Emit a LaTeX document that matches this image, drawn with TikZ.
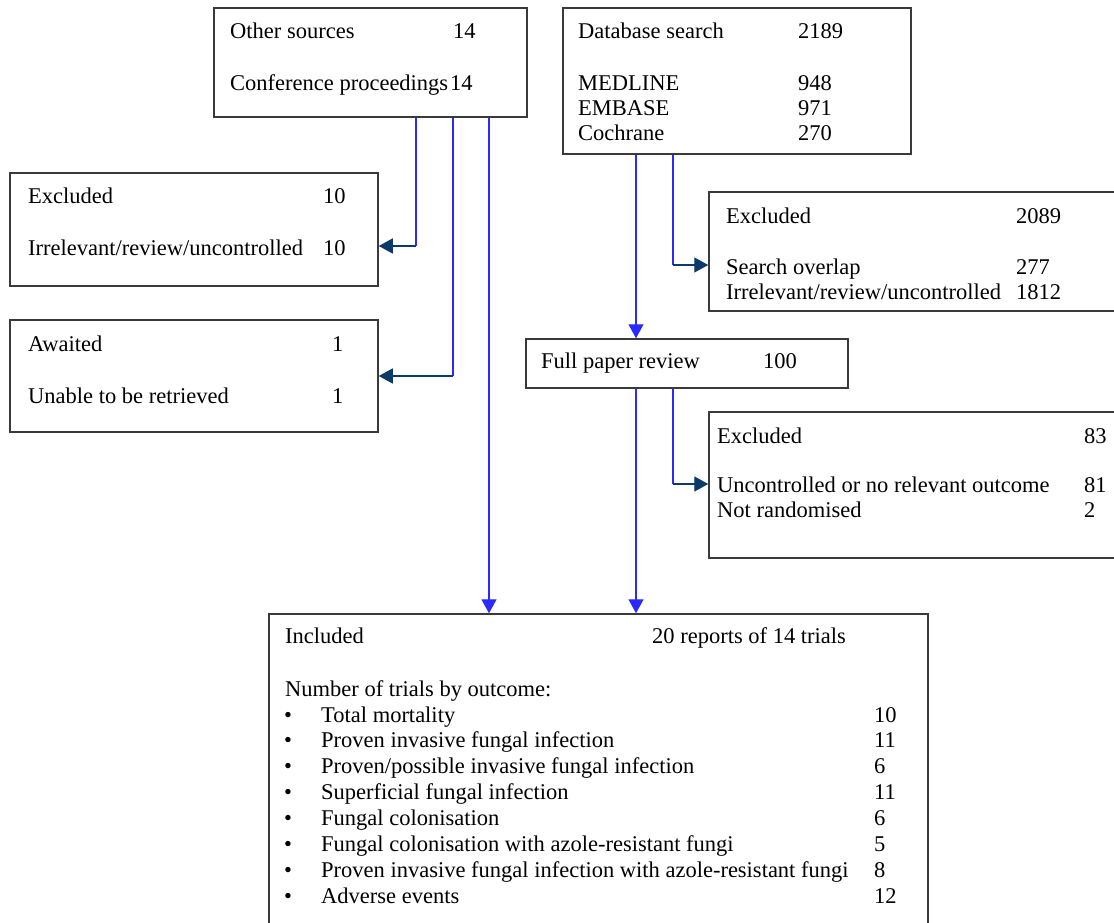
\documentclass[tikz,border=0pt]{standalone}
\usepackage{fontspec}
\setmainfont{Liberation Serif}
\usetikzlibrary{arrows.meta,fit}
\definecolor{lineblue}{HTML}{2A2AFF}
\definecolor{navy}{HTML}{0B3A6B}
\definecolor{boxgray}{HTML}{3A3A3A}
\tikzset{
  box/.style={draw=boxgray,line width=1.5pt,inner sep=0pt,fill=white},
  txt/.style={anchor=base west,inner sep=0pt,font=\fontsize{22.5}{26}\selectfont},
  vline/.style={draw=lineblue,line width=1.4pt},
  downarrow/.style={vline,-{Triangle[length=14pt,width=15pt]}},
  sidearrow/.style={draw=navy,line width=1.4pt,-{Triangle[length=14pt,width=15pt]}},
}
\begin{document}
\begin{tikzpicture}[x=1pt,y=-1pt]
\useasboundingbox (0,0) rectangle (1114,923);
\clip (0,0) rectangle (1114,923);
\fill[white] (0,0) rectangle (1114,923);
% boxes
\node[box,fit={(214,8) (527,117)}] (os) {};
\node[box,fit={(563,8) (911,154)}] (db) {};
\node[box,fit={(10,173) (378,286)}] (ex1) {};
\node[box,fit={(10,320) (378,432)}] (aw) {};
\node[box,fit={(709,192) (1140,311)}] (ex2) {};
\node[box,fit={(526,339) (848,388)}] (fp) {};
\node[box,fit={(709,412) (1140,558)}] (ex3) {};
\node[box,fit={(269,614) (928,950)}] (inc) {};
% texts: other sources
\node[txt] (os1) at (230,39) {Other sources};
\node[txt] (os1n) at (453,39) {14};
\node[txt] (os2) at (230,91) {Conference proceedings};
\node[txt] (os2n) at (450,91) {14};
% database
\node[txt] (db1) at (578,39) {Database search};
\node[txt] (db1n) at (798,39) {2189};
\node[txt] (db2) at (578,91) {MEDLINE};
\node[txt] (db2n) at (798,91) {948};
\node[txt] (db3) at (578,116) {EMBASE};
\node[txt] (db3n) at (798,116) {971};
\node[txt] (db4) at (578,141) {Cochrane};
\node[txt] (db4n) at (798,141) {270};
% excluded 1
\node[txt] (e11) at (28,203) {Excluded};
\node[txt] (e11n) at (323,203) {10};
\node[txt] (e12) at (28,255) {Irrelevant/review/uncontrolled};
\node[txt] (e12n) at (323,255) {10};
% awaited
\node[txt] (aw1) at (28,351) {Awaited};
\node[txt] (aw1n) at (332,351) {1};
\node[txt] (aw2) at (28,403) {Unable to be retrieved};
\node[txt] (aw2n) at (332,403) {1};
% excluded 2
\node[txt] (e21) at (726,223) {Excluded};
\node[txt] (e21n) at (1016,223) {2089};
\node[txt] (e22) at (726,274) {Search overlap};
\node[txt] (e22n) at (1016,274) {277};
\node[txt] (e23) at (726,299) {Irrelevant/review/uncontrolled};
\node[txt] (e23n) at (1016,299) {1812};
% full paper
\node[txt] (fp1) at (541,368) {Full paper review};
\node[txt] (fp1n) at (763,368) {100};
% excluded 3
\node[txt] (e31) at (717,443) {Excluded};
\node[txt] (e31n) at (1084,443) {83};
\node[txt] (e32) at (717,492) {Uncontrolled or no relevant outcome};
\node[txt] (e32n) at (1084,492) {81};
\node[txt] (e33) at (717,517) {Not randomised};
\node[txt] (e33n) at (1084,517) {2};
% included
\node[txt] (i1) at (285,643) {Included};
\node[txt] (i1n) at (652,643) {20 reports of 14 trials};
\node[txt] (i2) at (285,696) {Number of trials by outcome:};
\foreach \y/\t/\n [count=\k] in {
  722/Total mortality/10,
  747/Proven invasive fungal infection/11,
  773/Proven\slash possible invasive fungal infection/6,
  799/Superficial fungal infection/11,
  825/Fungal colonisation/6,
  851/Fungal colonisation with azole-resistant fungi/5,
  877/Proven invasive fungal infection with azole-resistant fungi/8,
  903/Adverse events/12}{
  \node[txt] (b\k) at (284,\y) {•};
  \node[txt] (it\k) at (321,\y) {\t};
  \node[txt] (itn\k) at (874,\y) {\n};
}
% connectors
\coordinate (k1) at (416,246);
\coordinate (k2) at (453,376);
\coordinate (k3) at (489,614);
\coordinate (k4) at (636,339);
\coordinate (k5) at (673,265);
\coordinate (k6) at (673,484);
\draw[vline] (os.south -| k1) -- (k1);
\draw[sidearrow] (k1) -- (ex1.east |- k1);
\draw[vline] (os.south -| k2) -- (k2);
\draw[sidearrow] (k2) -- (aw.east |- k2);
\draw[downarrow] (os.south -| k3) -- (inc.north -| k3);
\draw[downarrow] (db.south -| k4) -- (fp.north -| k4);
\draw[vline] (db.south -| k5) -- (k5);
\draw[sidearrow] (k5) -- (ex2.west |- k5);
\draw[downarrow] (fp.south -| k4) -- (inc.north -| k4);
\draw[vline] (fp.south -| k6) -- (k6);
\draw[sidearrow] (k6) -- (ex3.west |- k6);
\end{tikzpicture}
\end{document}
